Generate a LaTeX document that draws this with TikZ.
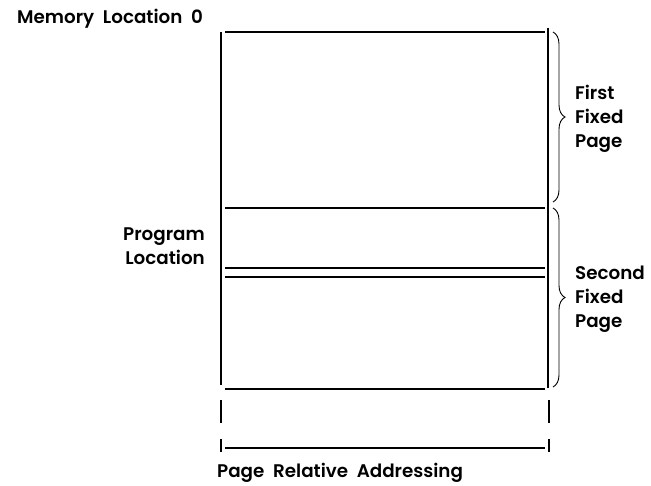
\documentclass[tikz,border=0pt]{standalone}
\usepackage{fontspec}
\setmainfont{Poppins}[UprightFont={* SemiBold}]
\usetikzlibrary{decorations.pathreplacing}
\begin{document}
\begin{tikzpicture}[x=1pt,y=-1pt,
  lbl/.style={inner sep=0pt,font=\fontsize{18.3}{22}\selectfont,anchor=base west},
  lblr/.style={inner sep=0pt,font=\fontsize{18.3}{22}\selectfont,anchor=base east},
  rule/.style={line width=1.7pt},
  thickrule/.style={line width=2.8pt},
  brk/.style={line width=1.5pt},
  bracestyle/.style={line width=0.9pt,decorate,decoration={brace,amplitude=12pt}}]
\useasboundingbox (0,0) rectangle (651,485);

% memory block outline
\draw[rule] (221,32) -- (221,385);
\draw[thickrule] (548,28) -- (548,388);
\draw[rule] (225,32) -- (545,32);
\draw[rule] (225,208) -- (545,208);
\draw[rule] (225,268) -- (545,268);
\draw[rule] (225,277) -- (545,277);
\draw[rule] (225,389) -- (545,389);

% relative addressing range
\draw[brk] (221,400) -- (221,423);
\draw[brk] (221,439) -- (221,452);
\draw[brk] (549,400) -- (549,423);
\draw[brk] (549,439) -- (549,452);
\draw[rule] (225,448) -- (545,448);

% page braces
\draw[bracestyle] (553,32) -- (553,202);
\draw[bracestyle] (553,208) -- (553,387);

% labels
\node[lbl] (mem) at (17,23) {Memory\ \ Location\ \ 0};
\node[lblr] (prog1) at (205,240) {Program};
\node[lblr] (prog2) at (205,264) {Location};
\node[lbl] (f1) at (575,99) {First};
\node[lbl] (f2) at (575,123) {Fixed};
\node[lbl] (f3) at (575,147) {Page};
\node[lbl] (s1) at (575,279) {Second};
\node[lbl] (s2) at (575,303) {Fixed};
\node[lbl] (s3) at (575,327) {Page};
\node[lbl] (pra) at (217,477) {Page\ \ Relative\ \ Addressing};
\end{tikzpicture}
\end{document}
